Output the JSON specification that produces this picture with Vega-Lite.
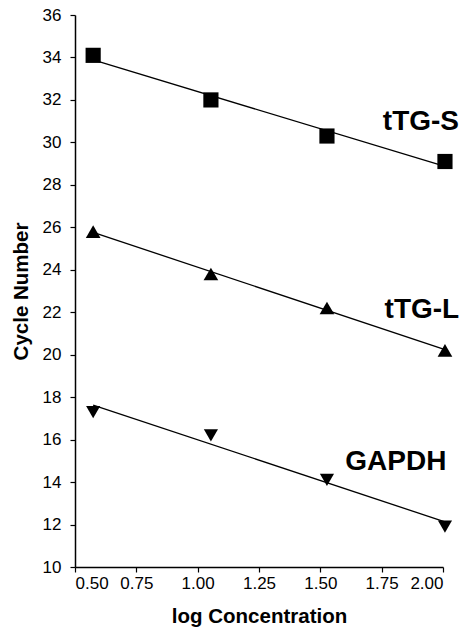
{
  "$schema": "https://vega.github.io/schema/vega-lite/v6.json",
  "width": 368,
  "height": 552,
  "autosize": {"type": "none"},
  "padding": {"left": 75, "top": 15, "right": 22, "bottom": 64},
  "config": {
    "view": {"stroke": null},
    "font": "Liberation Sans",
    "axis": {
      "domainColor": "black", "tickColor": "black", "labelColor": "black", "titleColor": "black",
      "grid": false, "labelFont": "Liberation Sans", "titleFont": "Liberation Sans",
      "labelFontSize": 17, "titleFontSize": 20.5, "titleFontWeight": "bold", "tickSize": 5, "domainWidth": 1.5, "tickWidth": 1.2
    }
  },
  "datasets": {
    "pts": [
      {"logc": 0.574, "cycle": 34.1, "gene": "tTG-S"},
      {"logc": 1.054, "cycle": 32.0, "gene": "tTG-S"},
      {"logc": 1.527, "cycle": 30.3, "gene": "tTG-S"},
      {"logc": 2.008, "cycle": 29.1, "gene": "tTG-S"},
      {"logc": 0.574, "cycle": 25.8, "gene": "tTG-L"},
      {"logc": 1.054, "cycle": 23.8, "gene": "tTG-L"},
      {"logc": 1.527, "cycle": 22.2, "gene": "tTG-L"},
      {"logc": 2.008, "cycle": 20.2, "gene": "tTG-L"},
      {"logc": 0.574, "cycle": 17.3, "gene": "GAPDH"},
      {"logc": 1.054, "cycle": 16.2, "gene": "GAPDH"},
      {"logc": 1.527, "cycle": 14.1, "gene": "GAPDH"},
      {"logc": 2.008, "cycle": 11.9, "gene": "GAPDH"}
    ],
    "labels": [
      {"logc": 1.91, "cycle": 30.96, "gene": "tTG-S"},
      {"logc": 1.914, "cycle": 22.1, "gene": "tTG-L"},
      {"logc": 1.808, "cycle": 14.94, "gene": "GAPDH"}
    ]
  },
  "layer": [
    {
      "data": {"name": "pts"},
      "transform": [{"regression": "cycle", "on": "logc", "groupby": ["gene"]}],
      "mark": {"type": "line", "color": "black", "strokeWidth": 1.3},
      "encoding": {
        "x": {"field": "logc", "type": "quantitative", "scale": {"domain": [0.5, 2.0], "nice": false},
              "axis": {"values": [0.5, 0.75, 1.0, 1.25, 1.5, 1.75, 2.0], "format": ".2f", "title": "log Concentration", "titlePadding": 15, "labelPadding": 3}},
        "y": {"field": "cycle", "type": "quantitative", "scale": {"domain": [10, 36], "nice": false, "zero": false},
              "axis": {"values": [10, 12, 14, 16, 18, 20, 22, 24, 26, 28, 30, 32, 34, 36], "title": "Cycle Number", "titlePadding": 11, "labelPadding": 9, "titleY": 276}},
        "detail": {"field": "gene"}
      }
    },
    {
      "data": {"name": "pts"},
      "mark": {"type": "point", "filled": true, "color": "black", "opacity": 1},
      "encoding": {
        "x": {"field": "logc", "type": "quantitative"},
        "y": {"field": "cycle", "type": "quantitative"},
        "shape": {"field": "gene", "type": "nominal",
                  "scale": {"domain": ["tTG-S", "tTG-L", "GAPDH"], "range": ["square", "triangle-up", "triangle-down"]}, "legend": null},
        "size": {"field": "gene", "type": "nominal",
                 "scale": {"domain": ["tTG-S", "tTG-L", "GAPDH"], "range": [230, 200, 200]}, "legend": null}
      }
    },
    {
      "data": {"name": "labels"},
      "mark": {"type": "text", "fontSize": 28, "fontWeight": "bold", "font": "Liberation Sans", "color": "black", "baseline": "middle", "align": "center"},
      "encoding": {
        "x": {"field": "logc", "type": "quantitative"},
        "y": {"field": "cycle", "type": "quantitative"},
        "text": {"field": "gene"}
      }
    }
  ]
}
